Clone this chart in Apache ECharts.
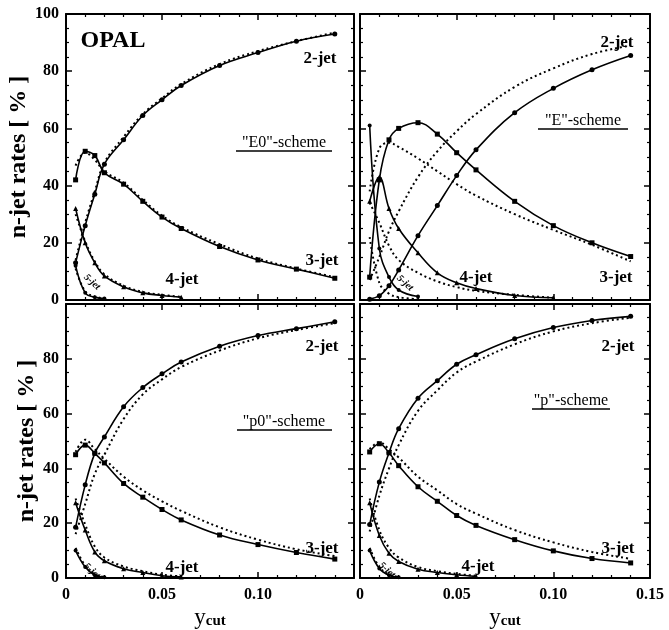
<!DOCTYPE html>
<html>
<head>
<meta charset="utf-8">
<script src="https://cdn.jsdelivr.net/npm/echarts@6.0.0/dist/echarts.min.js"></script>
<style>
  html, body { margin: 0; padding: 0; background: #fff; }
  #main { width: 669px; height: 630px; }
</style>
</head>
<body>
<div id="main"></div>
<script type="text/javascript">
// y_cut values of the measured points
var ycut = [0.005, 0.01, 0.015, 0.02, 0.03, 0.04, 0.05, 0.06, 0.08, 0.10, 0.12, 0.14];

// "E0"-scheme (solid = data curve, Mc = dotted curve)
var e0Jet2 = [13, 26, 37, 47.5, 56, 64.5, 70, 75, 82, 86.5, 90.5, 93];
var e0Jet2Mc = [14, 27, 38, 48, 57, 65, 70.5, 75.5, 82.5, 87, 90.5, 93.5];
var e0Jet3 = [42, 52, 50.5, 44.5, 40.5, 34.5, 29, 25, 18.7, 14, 10.8, 7.6];
var e0Jet3Mc = [47, 51.5, 49, 45, 41, 35, 29.5, 25.5, 19.5, 14.5, 11, 8];
var e0Jet4 = [32, 20, 13, 8.4, 4.6, 2.5, 1.6, 1.0];
var e0Jet4Mc = [30, 20.5, 13.5, 9, 5, 2.8, 1.8, 1.1];
var e0Jet5 = [12, 2.5, 1, 0.5];
var e0Jet5Mc = [11, 3, 1.2, 0.6];

// "E"-scheme
var eJet2 = [0.3, 1.5, 5, 10.5, 22.5, 33, 43.5, 52.5, 65.5, 74, 80.5, 85.5];
var eJet2Mc = [7, 15, 24, 31, 43, 52, 59, 65, 74.5, 81, 86, 89];
var eJet3 = [8, 42, 56, 60, 62, 58, 51.5, 45.5, 34.5, 26, 20, 15.2];
var eJet3Mc = [38, 53, 55, 53.5, 49.5, 45, 40.5, 36.5, 30, 24.5, 19.3, 13.5];
var eJet4 = [34.5, 43, 32, 25, 16.5, 9.5, 6, 4, 1.6, 0.8];
var eJet4Mc = [34, 27, 19, 14, 9.5, 6.5, 4.5, 3.2, 1.8, 0.8];
var eJet5 = [61, 18, 8, 3.5, 1.2];
var eJet5Mc = [22, 6, 2.2, 1, 0.3];

// "p0"-scheme
var p0Jet2 = [18.5, 34, 45.5, 51.5, 62.5, 69.5, 74.5, 78.8, 84.6, 88.5, 91, 93.5];
var p0Jet2Mc = [16, 27, 38, 45, 58, 67, 72.5, 77, 83, 87.5, 90.5, 93];
var p0Jet3 = [45, 48.5, 45.5, 42, 34.5, 29.5, 25, 21.2, 15.7, 12.2, 9.3, 6.9];
var p0Jet3Mc = [46, 50.5, 47, 43.5, 37, 32, 28, 24.5, 18.5, 14, 10.5, 8];
var p0Jet4 = [27.5, 17.5, 9.5, 6.3, 3.4, 2, 0.8, 0.4];
var p0Jet4Mc = [29, 19.5, 11.5, 7.5, 4.2, 2.5, 1.2, 0.6];
var p0Jet5 = [10, 4, 1, 0.3];
var p0Jet5Mc = [11, 4.5, 1.3, 0.4];

// "p"-scheme
var pJet2 = [19.5, 35, 45.7, 54.5, 65.6, 72, 78, 81.5, 87.3, 91.4, 94, 95.5];
var pJet2Mc = [17, 30, 40, 48.5, 61, 68.5, 75, 79, 85.3, 90, 93, 95];
var pJet3 = [46, 49, 45.7, 41, 33.3, 28, 22.8, 19.2, 14, 9.9, 7.1, 5.5];
var pJet3Mc = [47, 49.5, 47, 44, 37, 32, 27, 23.5, 17.5, 13, 9.5, 7];
var pJet4 = [27.5, 15.5, 9, 6, 3.2, 2, 1.2, 0.6];
var pJet4Mc = [29, 17.5, 11, 7.5, 4, 2.5, 1.5, 0.8];
var pJet5 = [10, 3.5, 1, 0.3];
var pJet5Mc = [11, 4, 1.3, 0.4];

var xTickLabels = ['0', '0.05', '0.10', '0.15'];
var yTickLabels = ['0', '20', '40', '60', '80', '100'];

var FONT = '"Liberation Serif", "DejaVu Serif", serif';

function pair(vals) {
  return vals.map(function (v, i) { return [ycut[i], v]; });
}

var panels = [
  { left: 66, top: 14, width: 288, height: 286, sets: [e0Jet2, e0Jet2Mc, e0Jet3, e0Jet3Mc, e0Jet4, e0Jet4Mc, e0Jet5, e0Jet5Mc], xl: false, yl: true, y100: true, x15: false },
  { left: 360, top: 14, width: 290, height: 286, sets: [eJet2, eJet2Mc, eJet3, eJet3Mc, eJet4, eJet4Mc, eJet5, eJet5Mc], xl: false, yl: false, y100: false, x15: true },
  { left: 66, top: 304, width: 288, height: 284, sets: [p0Jet2, p0Jet2Mc, p0Jet3, p0Jet3Mc, p0Jet4, p0Jet4Mc, p0Jet5, p0Jet5Mc], xl: true, yl: true, y100: false, x15: false },
  { left: 360, top: 304, width: 290, height: 284, sets: [pJet2, pJet2Mc, pJet3, pJet3Mc, pJet4, pJet4Mc, pJet5, pJet5Mc], xl: true, yl: false, y100: false, x15: true }
];

var grids = [], xAxes = [], yAxes = [], series = [];
var marks = ['circle', 'rect', 'triangle', 'circle'];

panels.forEach(function (p, gi) {
  grids.push({ left: p.left, top: p.top, width: p.width, height: p.height });
  ['bottom', 'top'].forEach(function (pos) {
    var main = pos === 'bottom';
    xAxes.push({
      type: 'value', gridIndex: gi, position: pos, min: 0, max: 0.15, interval: 0.05,
      axisLine: { onZero: false, lineStyle: { color: '#000', width: 2 } },
      axisTick: { inside: true, length: 6, lineStyle: { color: '#000', width: 1.5 } },
      minorTick: { show: true, splitNumber: 5, length: 3, lineStyle: { color: '#000', width: 1.2 } },
      splitLine: { show: false },
      axisLabel: {
        show: main && p.xl, color: '#000', fontFamily: FONT, fontWeight: 'bold', fontSize: 16, margin: 9,
        formatter: function (v) {
          var idx = Math.round(v / 0.05);
          if (idx === 3 && !p.x15) return '';
          return xTickLabels[idx];
        }
      },
      name: main && p.xl ? '{a|y}{b|cut}' : '',
      nameLocation: 'middle', nameGap: 28,
      nameTextStyle: {
        rich: {
          a: { fontFamily: FONT, fontSize: 23, color: '#000', verticalAlign: 'bottom' },
          b: { fontFamily: FONT, fontSize: 15, fontWeight: 'bold', color: '#000', padding: [8, 0, 0, 0] }
        }
      }
    });
  });
  ['left', 'right'].forEach(function (pos) {
    var main = pos === 'left';
    yAxes.push({
      type: 'value', gridIndex: gi, position: pos, min: 0, max: 100, interval: 20,
      axisLine: { show: true, onZero: false, lineStyle: { color: '#000', width: 2 } },
      axisTick: { show: true, inside: true, length: 6, lineStyle: { color: '#000', width: 1.5 } },
      minorTick: { show: true, splitNumber: 4, length: 3, lineStyle: { color: '#000', width: 1.2 } },
      splitLine: { show: false },
      axisLabel: {
        show: main && p.yl, color: '#000', fontFamily: FONT, fontWeight: 'bold', fontSize: 16, margin: 7,
        formatter: function (v) {
          var idx = Math.round(v / 20);
          if (idx === 5 && !p.y100) return '';
          return yTickLabels[idx];
        }
      },
      name: main && p.yl ? 'n-jet rates [ % ]' : '',
      nameLocation: 'middle', nameGap: 26,
      nameTextStyle: { fontFamily: FONT, fontWeight: 'bold', fontSize: 24, color: '#000' }
    });
  });
  p.sets.forEach(function (vals, k) {
    var dotted = k % 2 === 1;
    series.push({
      type: 'line', xAxisIndex: gi * 2, yAxisIndex: gi * 2,
      data: pair(vals), smooth: 0.4,
      symbol: marks[Math.floor(k / 2)], symbolSize: Math.floor(k / 2) === 3 ? 4 : 5,
      showSymbol: !dotted,
      lineStyle: dotted ? { color: '#000', width: 2, type: [2, 3] } : { color: '#000', width: 1.6 },
      itemStyle: { color: '#000' },
      silent: true, animation: false
    });
  });
});

function txt(x, y, s, size, bold) {
  return { type: 'text', z: 10, style: {
    x: x, y: y, text: s, fill: '#000', align: 'center', verticalAlign: 'middle',
    font: (bold ? 'bold ' : '') + size + 'px ' + FONT
  } };
}
function underline(x1, x2, y) {
  return { type: 'line', shape: { x1: x1, y1: y, x2: x2, y2: y }, style: { stroke: '#000', lineWidth: 1.5 }, z: 10 };
}
function fiveJet(x, y) {
  return { type: 'text', x: x, y: y, rotation: -Math.PI / 3 + 0.3,
    style: { text: '5-jet', fill: '#000', align: 'center', verticalAlign: 'middle',
      font: 'italic bold 10px ' + FONT }, z: 10 };
}

var graphic = [
  txt(113, 41, 'OPAL', 24, true),
  txt(320, 59, '2-jet', 17, true), txt(322, 261, '3-jet', 17, true), txt(182, 280, '4-jet', 17, true),
  txt(284, 143, '"E0"-scheme', 16, false), underline(236, 332, 151), fiveJet(92, 282),
  txt(617, 43, '2-jet', 17, true), txt(616, 278, '3-jet', 17, true), txt(476, 278, '4-jet', 17, true),
  txt(583, 121, '"E"-scheme', 16, false), underline(538, 628, 129), fiveJet(405, 283),
  txt(322, 347, '2-jet', 17, true), txt(322, 549, '3-jet', 17, true), txt(182, 568, '4-jet', 17, true),
  txt(284, 422, '"p0"-scheme', 16, false), underline(237, 332, 430), fiveJet(92, 571),
  txt(618, 347, '2-jet', 17, true), txt(618, 549, '3-jet', 17, true), txt(478, 567, '4-jet', 17, true),
  txt(571, 401, '"p"-scheme', 16, false), underline(532, 610, 409), fiveJet(387, 570)
];

var chart = echarts.init(document.getElementById('main'));
chart.setOption({
  backgroundColor: '#fff',
  animation: false,
  grid: grids,
  xAxis: xAxes,
  yAxis: yAxes,
  series: series,
  graphic: graphic
});
</script>
</body>
</html>
